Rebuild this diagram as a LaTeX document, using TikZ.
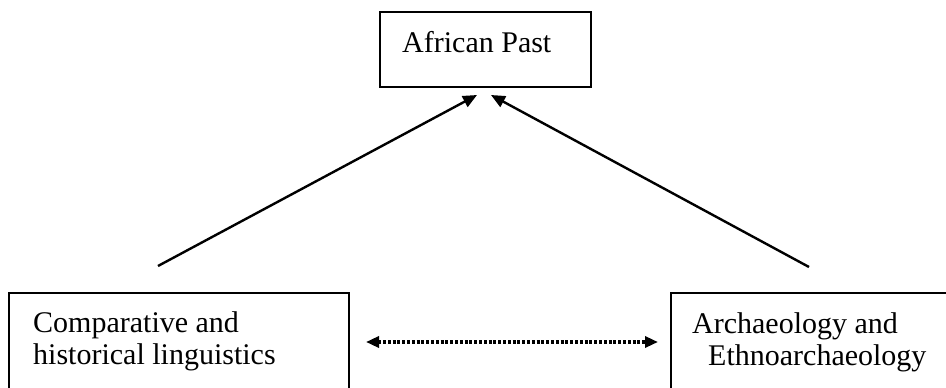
\documentclass[tikz,border=0pt]{standalone}
\usepackage{fontspec}
\setmainfont{Liberation Serif}
\usetikzlibrary{arrows.meta}
\begin{document}
\begin{tikzpicture}[x=1pt,y=-1pt,
  boxframe/.style={draw=black,line width=1.8pt,inner sep=0pt,anchor=north west},
  boxtext/.style={anchor=base west,inner sep=0pt,font=\fontsize{30}{32}\selectfont},
  link/.style={line width=2.4pt,-{Triangle[length=14pt,width=12pt]}},
  exchange/.style={line width=3.2pt,dash pattern=on 3pt off 1.8pt,
    {Triangle[length=13pt,width=11pt]}-{Triangle[length=13pt,width=11pt]}}]
\useasboundingbox (0,0) rectangle (946,388);
\clip (0,0) rectangle (946,388);

% frames
\node[boxframe, minimum width=211pt, minimum height=75pt] (past) at (379,11) {};
\node[boxframe, minimum width=340pt, minimum height=130pt] (ling) at (8,292) {};
\node[boxframe, minimum width=340pt, minimum height=130pt] (arch) at (670,292) {};

% texts
\node[boxtext] (pasttxt) at (402,52) {African Past};
\node[boxtext] (lingA) at (33,332) {Comparative and};
\node[boxtext] (lingB) at (33,364) {historical linguistics};
\node[boxtext] (archA) at (692,333) {Archaeology and};
\node[boxtext] (archB) at (708,365) {Ethnoarchaeology};

% connectors
\coordinate (lfoot) at (158,266);
\coordinate (ltip) at (477,95);
\coordinate (rfoot) at (809,267);
\coordinate (rtip) at (491,95);
\coordinate (dleft) at (366,342);
\coordinate (dright) at (658,342);

\draw[link] (lfoot) -- (ltip);
\draw[link] (rfoot) -- (rtip);
\draw[exchange] (dleft) -- (dright);
\end{tikzpicture}
\end{document}
